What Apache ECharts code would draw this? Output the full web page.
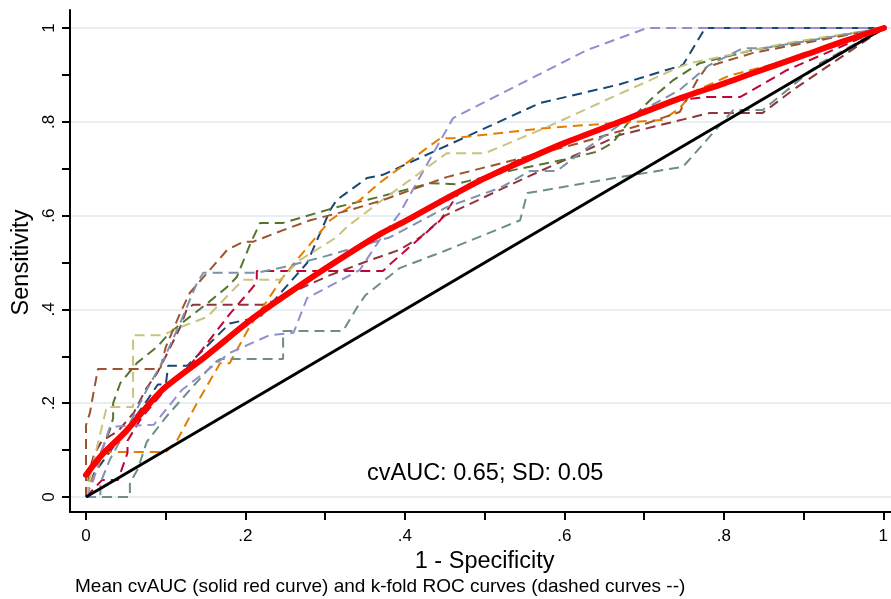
<!DOCTYPE html>
<html>
<head>
<meta charset="utf-8">
<script src="https://cdn.jsdelivr.net/npm/echarts@6/dist/echarts.min.js"></script>
<style>
  html, body { margin: 0; padding: 0; background: #fff; }
  #chart { width: 891px; height: 599px; }
</style>
</head>
<body>
<div id="chart"></div>
<script>
// k-fold ROC curves, [1 - specificity, sensitivity]
const foldNavy = [[0,0],[0.01,0.05],[0.04,0.12],[0.07,0.19],[0.09,0.24],[0.1,0.24],[0.103,0.28],[0.127,0.28],[0.18,0.37],[0.218,0.384],[0.247,0.441],[0.277,0.499],[0.306,0.612],[0.314,0.633],[0.352,0.68],[0.372,0.687],[0.569,0.84],[0.669,0.88],[0.748,0.921],[0.776,1],[1,1]];
const foldMaroon = [[0,0],[0.005,0.06],[0.01,0.09],[0.02,0.12],[0.04,0.14],[0.06,0.18],[0.075,0.23],[0.089,0.264],[0.1,0.3],[0.118,0.362],[0.126,0.399],[0.134,0.41],[0.222,0.41],[0.239,0.42],[0.256,0.435],[0.306,0.473],[0.356,0.505],[0.393,0.527],[0.419,0.554],[0.45,0.6],[0.55,0.68],[0.669,0.772],[0.782,0.819],[0.848,0.819],[0.886,0.868],[1,1]];
const foldGreen = [[0,0],[0.005,0.05],[0.015,0.08],[0.03,0.143],[0.034,0.168],[0.034,0.2],[0.043,0.243],[0.064,0.286],[0.089,0.32],[0.105,0.35],[0.13,0.384],[0.152,0.413],[0.177,0.448],[0.189,0.469],[0.206,0.54],[0.218,0.584],[0.246,0.584],[0.268,0.595],[0.314,0.618],[0.368,0.64],[0.431,0.669],[0.463,0.667],[0.535,0.697],[0.598,0.719],[0.64,0.736],[0.66,0.755],[0.682,0.804],[0.711,0.853],[0.736,0.889],[0.769,0.925],[0.836,0.953],[1,1]];
const foldOrange = [[0,0],[0.005,0.03],[0.015,0.06],[0.02,0.096],[0.1,0.096],[0.114,0.12],[0.139,0.2],[0.168,0.285],[0.18,0.285],[0.205,0.363],[0.247,0.469],[0.264,0.505],[0.306,0.59],[0.343,0.633],[0.368,0.67],[0.444,0.765],[0.46,0.765],[0.578,0.787],[0.66,0.797],[0.723,0.804],[0.744,0.829],[0.761,0.864],[0.803,0.896],[0.81,0.9],[0.9,0.94],[1,1]];
const foldTeal = [[0,0],[0.055,0],[0.055,0.03],[0.065,0.06],[0.076,0.117],[0.1,0.17],[0.13,0.228],[0.16,0.285],[0.168,0.294],[0.247,0.294],[0.247,0.354],[0.322,0.354],[0.34,0.405],[0.35,0.43],[0.393,0.488],[0.45,0.525],[0.544,0.59],[0.553,0.648],[0.669,0.682],[0.748,0.704],[0.811,0.825],[0.848,0.825],[0.92,0.925],[1,1]];
const foldCranberry = [[0,0],[0.02,0.036],[0.04,0.036],[0.052,0.094],[0.052,0.12],[0.07,0.17],[0.1,0.23],[0.13,0.28],[0.155,0.335],[0.18,0.39],[0.206,0.441],[0.214,0.458],[0.214,0.482],[0.372,0.482],[0.39,0.51],[0.444,0.59],[0.472,0.66],[0.544,0.72],[0.585,0.746],[0.669,0.804],[0.74,0.846],[0.778,0.853],[0.82,0.853],[0.878,0.91],[1,1]];
const foldLavender = [[0,0],[0.01,0.04],[0.02,0.1],[0.03,0.15],[0.085,0.154],[0.12,0.228],[0.18,0.307],[0.23,0.345],[0.26,0.35],[0.277,0.424],[0.343,0.484],[0.368,0.548],[0.393,0.605],[0.46,0.808],[0.628,0.953],[0.703,1],[1,1]];
const foldKhaki = [[0,0],[0.01,0.08],[0.02,0.15],[0.026,0.192],[0.059,0.192],[0.059,0.345],[0.096,0.345],[0.118,0.362],[0.152,0.384],[0.184,0.441],[0.197,0.463],[0.243,0.463],[0.268,0.505],[0.314,0.554],[0.327,0.576],[0.368,0.629],[0.452,0.733],[0.5,0.733],[0.578,0.789],[0.66,0.853],[0.744,0.917],[0.757,0.925],[0.878,0.968],[1,1]];
const foldSienna = [[0,0],[0,0.153],[0.005,0.18],[0.01,0.228],[0.015,0.273],[0.093,0.273],[0.1,0.32],[0.118,0.392],[0.13,0.435],[0.155,0.484],[0.177,0.527],[0.197,0.544],[0.209,0.544],[0.247,0.569],[0.281,0.59],[0.331,0.612],[0.372,0.633],[0.452,0.682],[0.535,0.718],[0.619,0.755],[0.703,0.797],[0.744,0.821],[0.766,0.889],[0.778,0.917],[0.836,0.947],[1,1]];
const foldBlue = [[0,0],[0.018,0],[0.018,0.03],[0.03,0.08],[0.055,0.158],[0.076,0.228],[0.097,0.292],[0.118,0.371],[0.139,0.456],[0.147,0.478],[0.214,0.478],[0.247,0.49],[0.297,0.512],[0.34,0.533],[0.381,0.554],[0.452,0.618],[0.52,0.66],[0.556,0.695],[0.59,0.695],[0.619,0.733],[0.682,0.81],[0.744,0.868],[0.78,0.92],[0.823,0.957],[0.85,0.957],[1,1]];

// mean cross-validated ROC curve
const meanCurve = [[0,0.047],[0.02,0.09],[0.05,0.14],[0.08,0.2],[0.1,0.235],[0.15,0.3],[0.206,0.377],[0.25,0.43],[0.297,0.484],[0.368,0.56],[0.4,0.588],[0.45,0.635],[0.5,0.68],[0.556,0.723],[0.6,0.755],[0.669,0.8],[0.744,0.85],[0.8,0.882],[0.836,0.904],[0.9,0.942],[0.95,0.972],[1,1]];
const chanceLine = [[0,0],[1,1]];

const folds = [foldNavy, foldMaroon, foldGreen, foldOrange, foldTeal, foldCranberry, foldLavender, foldKhaki, foldSienna, foldBlue];
const foldColors = ["#1a476f", "#90353b", "#55752f", "#e37e00", "#6e8e84", "#c10534", "#938dd2", "#cac27e", "#a0522d", "#7b92a8"];

const xTitle = "1 - Specificity";
const yTitle = "Sensitivity";
const aucNote = "cvAUC: 0.65; SD: 0.05";
const footNote = "Mean cvAUC (solid red curve) and k-fold ROC curves (dashed curves --)";

const FONT = "'Liberation Sans', Arial, sans-serif";

// Stata style tick labels: 0 .2 .4 .6 .8 1
function stataLabel(v) {
  const n = Number(v.toFixed(1));
  if (n === 0) return "0";
  if (n === 1) return "1";
  return String(n).replace(/^0\./, ".");
}

const chart = echarts.init(document.getElementById("chart"));

const series = folds.map((d, i) => ({
  type: "line",
  xAxisIndex: 1,
  yAxisIndex: 1,
  data: d,
  symbol: "none",
  silent: true,
  lineStyle: { color: foldColors[i], width: 2, type: [10, 6] },
  z: 2,
}));

series.push({
  type: "line",
  xAxisIndex: 1,
  yAxisIndex: 1,
  data: chanceLine,
  symbol: "none",
  lineStyle: { color: "#000", width: 3 },
  z: 3,
});

series.push({
  type: "line",
  xAxisIndex: 1,
  yAxisIndex: 1,
  data: meanCurve,
  symbol: "none",
  smooth: 0.3,
  lineStyle: { color: "#ff0000", width: 6, cap: "round", join: "round" },
  z: 4,
});

const tickStyle = { color: "#000", width: 2 };
const hidden = { show: false };

const option = {
  animation: false,
  textStyle: { fontFamily: FONT, color: "#000" },
  title: [
    {
      text: footNote,
      left: 75,
      top: 577,
      padding: 0,
      textStyle: { fontFamily: FONT, fontSize: 19, fontWeight: "normal", color: "#000" },
    },
    {
      text: aucNote,
      left: 367,
      top: 462,
      padding: 0,
      textStyle: { fontFamily: FONT, fontSize: 23.5, fontWeight: "normal", color: "#000" },
    },
  ],
  grid: [
    { left: 70, right: 0, top: 10, bottom: 87 },   // frame (axis lines)
    { left: 86, right: 7, top: 28, bottom: 102 },  // data
    { left: 70, right: 0, top: 28, bottom: 102 },  // y ticks + gridlines
    { left: 86, right: 7, top: 28, bottom: 87 },   // x ticks
  ],
  xAxis: [
    {
      gridIndex: 0, type: "value", min: 0, max: 1,
      axisLine: { show: true, onZero: false, lineStyle: { color: "#000", width: 2 } },
      axisTick: hidden, axisLabel: hidden, splitLine: hidden,
    },
    { gridIndex: 1, type: "value", min: 0, max: 1, show: false },
    { gridIndex: 2, type: "value", min: 0, max: 1, show: false },
    {
      gridIndex: 3, type: "value", min: 0, max: 1, interval: 0.2,
      axisLine: hidden,
      axisTick: { show: true, length: 8, lineStyle: tickStyle },
      minorTick: { show: true, splitNumber: 2, length: 8, lineStyle: tickStyle },
      axisLabel: { margin: 16, fontSize: 17, color: "#000", fontFamily: FONT, formatter: stataLabel },
      splitLine: hidden,
      name: xTitle, nameLocation: "middle", nameGap: 30,
      nameTextStyle: { fontSize: 23.5, color: "#000", fontFamily: FONT },
    },
  ],
  yAxis: [
    {
      gridIndex: 0, type: "value", min: 0, max: 1,
      axisLine: { show: true, onZero: false, lineStyle: { color: "#000", width: 2 } },
      axisTick: hidden, axisLabel: hidden, splitLine: hidden,
    },
    { gridIndex: 1, type: "value", min: 0, max: 1, show: false },
    {
      gridIndex: 2, type: "value", min: 0, max: 1, interval: 0.2,
      axisLine: hidden,
      axisTick: { show: true, length: 8, lineStyle: tickStyle },
      minorTick: { show: true, splitNumber: 2, length: 8, lineStyle: tickStyle },
      axisLabel: { margin: 12, rotate: 90, fontSize: 17, color: "#000", fontFamily: FONT, formatter: stataLabel },
      splitLine: { show: true, lineStyle: { color: "#e8eff1", width: 2 } },
      name: yTitle, nameLocation: "middle", nameGap: 35,
      nameTextStyle: { fontSize: 23.5, color: "#000", fontFamily: FONT },
    },
    { gridIndex: 3, type: "value", min: 0, max: 1, show: false },
  ],
  series: series,
};

chart.setOption(option);
</script>
</body>
</html>
